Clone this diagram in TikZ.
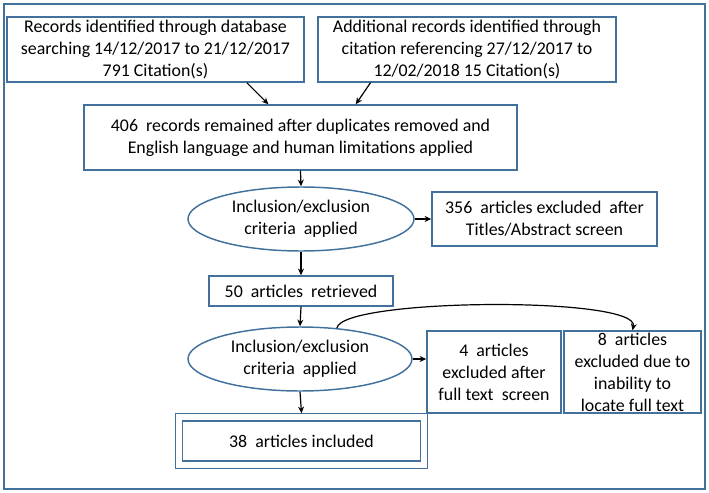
\documentclass[tikz,border=0pt]{standalone}
\usepackage{fontspec}
\setmainfont{Carlito}
\usepackage{tikz}
\usetikzlibrary{shapes.geometric,arrows.meta}
\definecolor{boxblue}{RGB}{65,113,156}

\begin{document}
\begin{tikzpicture}[x=0.75pt,y=0.75pt,yscale=-1,xscale=1,
  every node/.style={font=\fontsize{13.4}{16.5}\selectfont, align=center, inner sep=0.75pt},
  stagebox/.style={draw=boxblue, line width=1.1pt, rectangle},
  criteria/.style={draw=boxblue, line width=1.1pt, ellipse},
  flowarrow/.style={black, line width=0.9pt, -{Stealth[length=5pt,width=4.5pt]}}]
\useasboundingbox (0,0) rectangle (709,492);

%Outer frame
\draw [boxblue, line width=1.1pt] (4,4) rectangle (705,489);

% Text Node
\node [stagebox, minimum width=222.75pt, minimum height=48.75pt] (dbsearch) at (155.5,49.5) {Records identified through database\\searching 14/12/2017 to 21/12/2017\\791 Citation(s)};
% Text Node
\node [stagebox, minimum width=223.5pt, minimum height=48.75pt] (citsearch) at (467,49.5) {Additional records identified through\\citation referencing 27/12/2017 to\\12/02/2018 15 Citation(s)};
% Text Node
\node [stagebox, minimum width=324.75pt, minimum height=48.75pt] (dedup) at (300.5,137.5) {406~ records remained after duplicates removed and\\English language and human limitations applied};
% Text Node
\node [criteria, minimum width=169.5pt, minimum height=48pt] (critone) at (301,219) {Inclusion/exclusion\\criteria~ applied};
% Text Node
\node [stagebox, minimum width=168.75pt, minimum height=40.5pt] (exclabs) at (544.5,219) {356~ articles excluded~ after\\Titles/Abstract screen};
% Text Node
\node [stagebox, minimum width=138pt, minimum height=22.5pt] (retrieved) at (301,291) {50~ articles~ retrieved};
% Text Node
\node [criteria, minimum width=168pt, minimum height=48pt] (crittwo) at (300,359) {Inclusion/exclusion\\criteria~ applied};
% Text Node
\node [stagebox, minimum width=100.5pt, minimum height=61.5pt] (exclfull) at (494,372) {4~ articles\\excluded after\\full text~ screen};
% Text Node
\node [stagebox, minimum width=102.75pt, minimum height=61.5pt] (excllocate) at (632.5,372) {8~ articles\\excluded due to\\inability to\\locate full text};
% Text Node
\node [stagebox, double, double distance=4.5pt, outer sep=3pt, minimum width=183.75pt, minimum height=35.6pt] (included) at (301.5,441) {38~ articles included};

%Straight Lines
\draw [flowarrow] (dbsearch.-20.6) -- (dedup.134.1);
%Straight Lines
\draw [flowarrow] (citsearch.199.9) -- (dedup.31.3);
%Straight Lines
\draw [flowarrow] (dedup.south) -- (critone.north);
%Straight Lines
\draw [flowarrow] (critone.east) -- (exclabs.west);
%Straight Lines
\draw [flowarrow] (critone.south) -- (retrieved.north);
%Straight Lines
\draw [flowarrow] (retrieved.south) -- (crittwo.north);
%Straight Lines
\draw [flowarrow] (crittwo.east) -- (crittwo.east -| exclfull.west);
%Straight Lines
\draw [flowarrow] (crittwo.south) -- (included.north);
%Curve Lines
\draw [flowarrow] (crittwo.40) .. controls (342,298) and (640,296) .. (excllocate.north);

\end{tikzpicture}
\end{document}
